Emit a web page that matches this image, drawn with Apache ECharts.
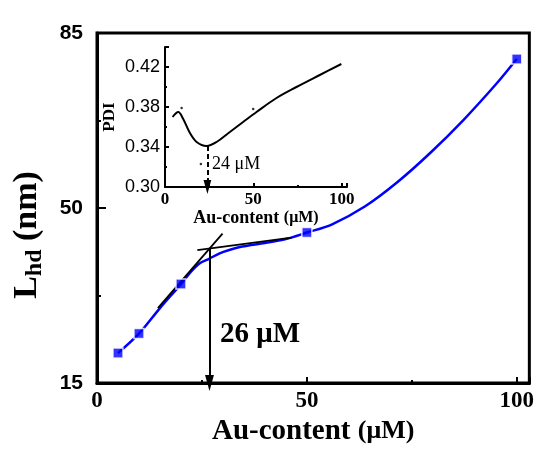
<!DOCTYPE html>
<html>
<head>
<meta charset="utf-8">
<script src="https://cdn.jsdelivr.net/npm/echarts@6/dist/echarts.min.js"></script>
<style>
  html, body { margin: 0; padding: 0; background: #fff; }
  #main { width: 537px; height: 451px; }
</style>
</head>
<body>
<div id="main"></div>
<script>
// main plot: L_hd vs Au content
const markerX = [5, 10, 20, 50, 100];
const markerY = [21.0, 24.9, 34.8, 45.1, 79.8];
// blue fitted curve
const fitX = [5, 10, 15, 20, 22, 24.4, 26.8, 29.1, 31.5, 34.6, 40, 45, 50, 55.9, 63.8, 71.6, 79.5, 87.4, 95.3, 100];
const fitY = [21.0, 24.9, 30.0, 34.8, 36.9, 38.9, 39.9, 40.9, 41.6, 42.3, 43.0, 43.8, 45.1, 46.7, 50.3, 55.2, 61.1, 67.7, 75.0, 79.8];
// the two tangents + the drop line at 26 uM
const tangent1X = [14.5, 29.9];
const tangent1Y = [30.0, 44.9];
const tangent2X = [23.9, 46.4];
const tangent2Y = [41.6, 44.1];
const dropX = 26.8;
const dropTop = 41.8;
const mainXTicks = [0, 50, 100];
const mainYTicks = [15, 50, 85];

// inset: PDI vs Au content
const pdiX = [4.3, 7.5, 10.3, 14.1, 17.9, 23.5, 29.2, 36.7, 44.2, 51.8, 63.1, 74.4, 87.6, 99.8];
const pdiY = [0.370, 0.375, 0.368, 0.354, 0.345, 0.341, 0.345, 0.355, 0.365, 0.375, 0.389, 0.400, 0.412, 0.423];
const pdiDotX = [9.4, 49.9, 20.3];
const pdiDotY = [0.379, 0.378, 0.323];
const pdiMinX = 24;
const pdiMinY = 0.341;
const insetXTicks = [0, 50, 100];
const insetYTicks = [0.30, 0.34, 0.38, 0.42];

const zip = (xs, ys) => xs.map((x, i) => [x, ys[i]]);
const serif = 'Liberation Serif';
const sans = 'Liberation Sans';
const arrowHead = 'path://M5,0 L10,18 L0,18 Z';

const chart = echarts.init(document.getElementById('main'));

const option = {
  animation: false,
  backgroundColor: '#fff',
  grid: [
    { left: 97, top: 33, width: 436, height: 355, show: true, borderColor: '#000', borderWidth: 3 },
    { left: 165, top: 47, width: 182, height: 140 },
  ],
  xAxis: [
    {
      gridIndex: 0,
      type: 'value',
      min: mainXTicks[0],
      max: mainXTicks[2] + 3,
      interval: mainXTicks[1] - mainXTicks[0],
      splitLine: { show: false },
      axisLine: { lineStyle: { color: '#000', width: 3 } },
      axisTick: { inside: true, length: 6, lineStyle: { width: 2 } },
      minorTick: { show: true, splitNumber: 2, length: 3, lineStyle: { color: '#000', width: 2 } },
      axisLabel: { color: '#000', fontFamily: serif, fontWeight: 'bold', fontSize: 23, margin: 6, showMaxLabel: false },
      name: '{a|Au-content }{b|(μM)}',
      nameLocation: 'middle',
      nameGap: 31,
      nameTextStyle: {
        rich: {
          a: { fontFamily: serif, fontWeight: 'bold', fontSize: 29, color: '#000' },
          b: { fontFamily: serif, fontWeight: 'bold', fontSize: 26, color: '#000' },
        },
      },
    },
    {
      gridIndex: 1,
      type: 'value',
      min: insetXTicks[0],
      max: insetXTicks[2] + 3,
      interval: insetXTicks[1] - insetXTicks[0],
      splitLine: { show: false },
      axisLine: { lineStyle: { color: '#000', width: 2 } },
      axisTick: { inside: true, length: 4, lineStyle: { width: 2 } },
      minorTick: { show: true, splitNumber: 2, length: 2, lineStyle: { color: '#000', width: 2 } },
      axisLabel: { color: '#000', fontFamily: serif, fontWeight: 'bold', fontSize: 17, margin: 4, showMaxLabel: false },
      name: '{a|Au-content }{b|(μM)}',
      nameLocation: 'middle',
      nameGap: 21,
      nameTextStyle: {
        rich: {
          a: { fontFamily: serif, fontWeight: 'bold', fontSize: 18, color: '#000' },
          b: { fontFamily: serif, fontWeight: 'bold', fontSize: 16, color: '#000' },
        },
      },
    },
  ],
  yAxis: [
    {
      gridIndex: 0,
      type: 'value',
      min: mainYTicks[0],
      max: mainYTicks[2],
      interval: mainYTicks[1] - mainYTicks[0],
      splitLine: { show: false },
      axisLine: { lineStyle: { color: '#000', width: 3 } },
      axisTick: { inside: true, length: 9, lineStyle: { width: 2 } },
      minorTick: { show: true, splitNumber: 2, length: 4, lineStyle: { color: '#000', width: 2 } },
      axisLabel: { color: '#000', fontFamily: sans, fontWeight: 'bold', fontSize: 21, margin: 14 },
    },
    {
      gridIndex: 1,
      type: 'value',
      min: insetYTicks[0],
      max: 0.44,
      interval: 0.04,
      splitLine: { show: false },
      axisLine: { lineStyle: { color: '#000', width: 2 } },
      axisTick: { inside: true, length: 4, lineStyle: { width: 2 } },
      minorTick: { show: true, splitNumber: 2, length: 2, lineStyle: { color: '#000', width: 2 } },
      axisLabel: {
        color: '#000', fontFamily: sans, fontSize: 18, margin: 5, showMaxLabel: false,
        formatter: (v) => v.toFixed(2),
      },
      name: 'PDI',
      nameLocation: 'middle',
      nameGap: 47,
      nameRotate: 90,
      nameTextStyle: { color: '#000', fontFamily: serif, fontWeight: 'bold', fontSize: 17 },
    },
  ],
  series: [
    {
      type: 'line',
      xAxisIndex: 0,
      yAxisIndex: 0,
      data: zip(fitX, fitY),
      smooth: 0.3,
      showSymbol: false,
      lineStyle: { color: '#0000ff', width: 2.5 },
    },
    {
      type: 'line',
      xAxisIndex: 0,
      yAxisIndex: 0,
      data: zip(tangent1X, tangent1Y),
      showSymbol: false,
      lineStyle: { color: '#000', width: 1.8 },
    },
    {
      type: 'line',
      xAxisIndex: 0,
      yAxisIndex: 0,
      data: zip(tangent2X, tangent2Y),
      showSymbol: false,
      lineStyle: { color: '#000', width: 1.8 },
      markLine: {
        silent: true,
        symbol: ['none', arrowHead],
        symbolSize: 16,
        symbolKeepAspect: true,
        label: { show: false },
        lineStyle: { color: '#000', width: 2, type: 'solid' },
        data: [[{ coord: [dropX, dropTop] }, { coord: [dropX, mainYTicks[0]] }]],
      },
    },
    {
      type: 'scatter',
      xAxisIndex: 0,
      yAxisIndex: 0,
      data: zip(markerX, markerY),
      symbol: 'rect',
      symbolSize: 10,
      itemStyle: { color: '#0000ff', borderColor: '#fff', borderWidth: 1.5 },
      z: 5,
    },
    {
      type: 'line',
      xAxisIndex: 1,
      yAxisIndex: 1,
      data: zip(pdiX, pdiY),
      smooth: 0.35,
      showSymbol: false,
      lineStyle: { color: '#000', width: 2 },
      markLine: {
        silent: true,
        symbol: ['none', arrowHead],
        symbolSize: 14,
        symbolKeepAspect: true,
        label: { show: false },
        lineStyle: { color: '#000', width: 2, type: [5, 3] },
        data: [[{ coord: [pdiMinX, pdiMinY] }, { coord: [pdiMinX, insetYTicks[0]] }]],
      },
    },
    {
      type: 'scatter',
      xAxisIndex: 1,
      yAxisIndex: 1,
      data: zip(pdiDotX, pdiDotY),
      symbolSize: 2.5,
      itemStyle: { color: '#000' },
    },
  ],
  graphic: [
    {
      type: 'text',
      x: 27,
      y: 235,
      rotation: Math.PI / 2,
      style: {
        text: '{a|L}{b|hd}{a| (nm)}',
        align: 'center',
        verticalAlign: 'middle',
        rich: {
          a: { fontFamily: serif, fontWeight: 'bold', fontSize: 34, lineHeight: 40, fill: '#000', verticalAlign: 'middle' },
          b: { fontFamily: serif, fontWeight: 'bold', fontSize: 24, lineHeight: 24, fill: '#000', verticalAlign: 'bottom' },
        },
      },
    },
    {
      type: 'text',
      left: 220,
      top: 320,
      style: { text: '26 μM', fontFamily: serif, fontWeight: 'bold', fontSize: 29, fill: '#000' },
    },
    {
      type: 'text',
      left: 212,
      top: 155,
      style: { text: '24 μM', fontFamily: serif, fontSize: 18, fill: '#000' },
    },
  ],
};

chart.setOption(option);
</script>
</body>
</html>
